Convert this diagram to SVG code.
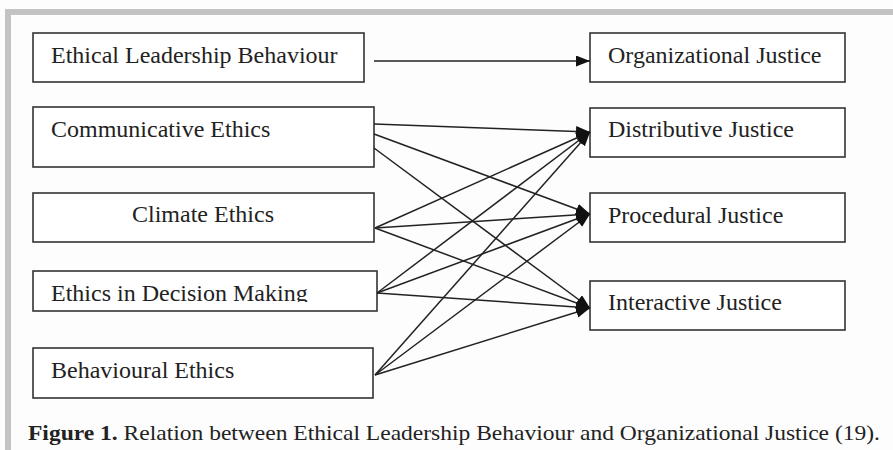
<svg xmlns="http://www.w3.org/2000/svg" width="893" height="450" viewBox="0 0 893 450">
  <style>
    .box { fill: #ffffff; stroke: #333333; stroke-width: 1.6; }
    .lbl { font-family: "Liberation Serif", "Times New Roman", serif; font-size: 24px; fill: #222222; }
    .con { stroke: #222222; stroke-width: 1.5; fill: none; marker-end: url(#arrow); }
    .cap { font-family: "Liberation Serif", "Times New Roman", serif; font-size: 22px; fill: #222222; }
  </style>
  <defs>
    <marker id="arrow" markerUnits="userSpaceOnUse" markerWidth="15" markerHeight="12" refX="14" refY="5.5" orient="auto">
      <path d="M0,0 L14,5.5 L0,11 Z" fill="#111111"/>
    </marker>
    <clipPath id="clipDM">
      <rect x="33" y="271" width="344" height="31"/>
    </clipPath>
  </defs>

  <rect x="0" y="0" width="893" height="450" fill="#fdfdfd"/>
  <rect x="5" y="9" width="888" height="6" fill="#c3c3c3"/>
  <rect x="5" y="9" width="6" height="441" fill="#c3c3c3"/>

  <g id="n-elb">
    <rect class="box" x="33" y="33" width="331" height="49"/>
    <text class="lbl" x="51" y="63">Ethical Leadership Behaviour</text>
  </g>
  <g id="n-comm">
    <rect class="box" x="33" y="107" width="341" height="60"/>
    <text class="lbl" x="51" y="137">Communicative Ethics</text>
  </g>
  <g id="n-climate">
    <rect class="box" x="33" y="193" width="341" height="49"/>
    <text class="lbl" x="203" y="222" text-anchor="middle">Climate Ethics</text>
  </g>
  <g id="n-decision">
    <rect class="box" x="33" y="271" width="344" height="40"/>
    <text class="lbl" x="51" y="301" clip-path="url(#clipDM)">Ethics in Decision Making</text>
  </g>
  <g id="n-behav">
    <rect class="box" x="33" y="348" width="340" height="50"/>
    <text class="lbl" x="51" y="378">Behavioural Ethics</text>
  </g>

  <g id="n-org">
    <rect class="box" x="590" y="33" width="255" height="49"/>
    <text class="lbl" x="608" y="63">Organizational Justice</text>
  </g>
  <g id="n-dist">
    <rect class="box" x="590" y="108" width="255" height="49"/>
    <text class="lbl" x="608" y="137">Distributive Justice</text>
  </g>
  <g id="n-proc">
    <rect class="box" x="590" y="193" width="255" height="49"/>
    <text class="lbl" x="608" y="223">Procedural Justice</text>
  </g>
  <g id="n-inter">
    <rect class="box" x="590" y="281" width="255" height="49"/>
    <text class="lbl" x="608" y="310">Interactive Justice</text>
  </g>

  <g id="connectors">
    <line class="con" x1="374" y1="61" x2="590" y2="61"/>
    <line class="con" x1="374" y1="124" x2="590" y2="132"/>
    <line class="con" x1="374" y1="134" x2="590" y2="214"/>
    <line class="con" x1="374" y1="148" x2="590" y2="308"/>
    <line class="con" x1="375" y1="228" x2="590" y2="132"/>
    <line class="con" x1="375" y1="228" x2="590" y2="214"/>
    <line class="con" x1="375" y1="228" x2="590" y2="308"/>
    <line class="con" x1="377" y1="293" x2="590" y2="132"/>
    <line class="con" x1="377" y1="293" x2="590" y2="214"/>
    <line class="con" x1="377" y1="293" x2="590" y2="308"/>
    <line class="con" x1="375" y1="375" x2="590" y2="132"/>
    <line class="con" x1="375" y1="375" x2="590" y2="214"/>
    <line class="con" x1="375" y1="375" x2="590" y2="308"/>
  </g>

  <text class="cap" x="28" y="440" textLength="852" lengthAdjust="spacingAndGlyphs"><tspan font-weight="bold">Figure 1.</tspan> Relation between Ethical Leadership Behaviour and Organizational Justice (19).</text>
</svg>
